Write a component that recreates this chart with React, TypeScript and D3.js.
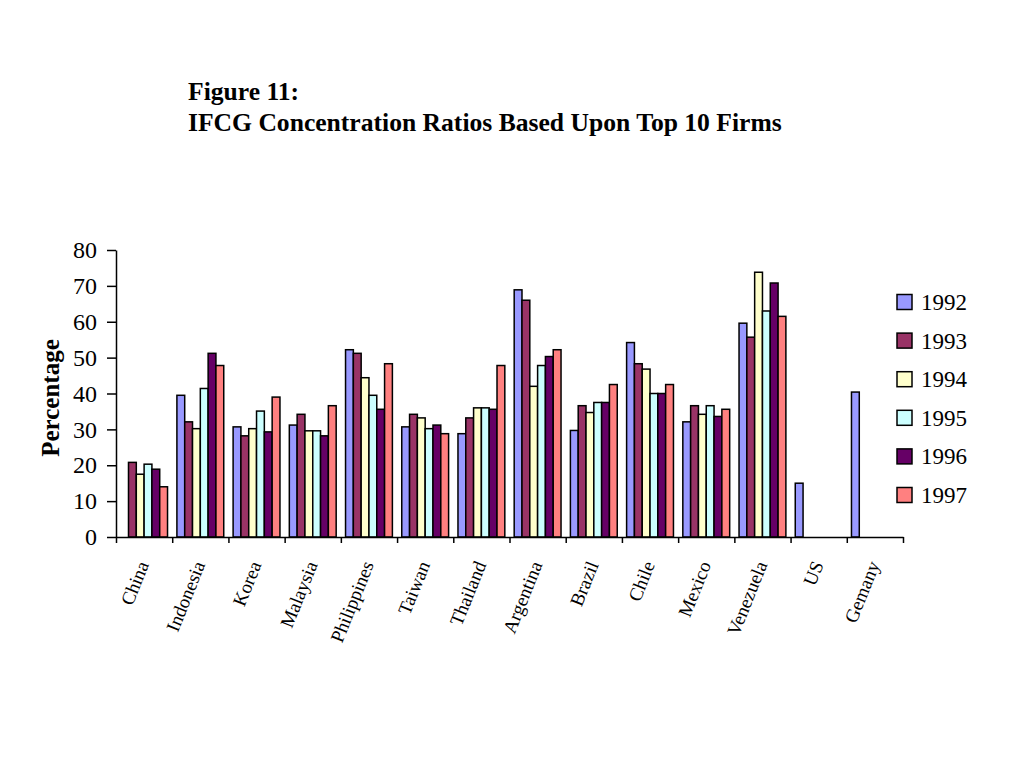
import { useEffect, useRef } from 'react';
import * as d3 from 'd3';

const countries = [
  'China', 'Indonesia', 'Korea', 'Malaysia', 'Philippines', 'Taiwan', 'Thailand',
  'Argentina', 'Brazil', 'Chile', 'Mexico', 'Venezuela', 'US', 'Gemany',
];
const years = ['1992', '1993', '1994', '1995', '1996', '1997'];

// null = no bar
const v1992 = [null, 39.5, 30.7, 31.2, 52.2, 30.7, 28.8, 68.9, 29.7, 54.2, 32.1, 59.6, 15.0, 40.4];
const v1993 = [20.8, 32.1, 28.2, 34.2, 51.2, 34.2, 33.2, 66.0, 36.6, 48.3, 36.6, 55.7, null, null];
const v1994 = [17.5, 30.2, 30.2, 29.6, 44.4, 33.2, 36.0, 42.0, 34.7, 46.8, 34.2, 73.8, null, null];
const v1995 = [20.3, 41.4, 35.1, 29.6, 39.5, 30.2, 36.0, 47.8, 37.5, 40.0, 36.6, 63.0, null, null];
const v1996 = [18.9, 51.2, 29.3, 28.2, 35.6, 31.2, 35.6, 50.3, 37.5, 40.0, 33.6, 70.8, null, null];
const v1997 = [14.0, 47.8, 39.0, 36.6, 48.3, 28.8, 47.8, 52.2, 42.5, 42.5, 35.6, 61.5, null, null];

const series = [v1992, v1993, v1994, v1995, v1996, v1997];
const colors = ['#9999FF', '#993366', '#FFFFCC', '#CCFFFF', '#660066', '#FF8080'];
const yTicks = [0, 10, 20, 30, 40, 50, 60, 70, 80];

const App = () => {
  const ref = useRef<SVGSVGElement | null>(null);

  useEffect(() => {
    if (!ref.current) return;
    const svg = d3.select(ref.current);
    svg.selectAll('*').remove();
    const font = '"Liberation Serif", "Times New Roman", serif';

    const left = 116;
    const right = 903;
    const top = 250;
    const bottom = 537;

    const x0 = d3.scaleBand<string>().domain(countries).range([left, right]).padding(0);
    const x1 = d3
      .scaleBand<string>()
      .domain(years)
      .range([0, x0.bandwidth()])
      .paddingInner(0)
      .paddingOuter(0.6);
    const y = d3.scaleLinear().domain([0, 80]).range([bottom, top]);

    // title
    const title = svg
      .append('text')
      .attr('font-family', font)
      .attr('font-weight', 'bold')
      .attr('font-size', 25.6);
    title.append('tspan').attr('x', 188).attr('y', 100).text('Figure 11:');
    title
      .append('tspan')
      .attr('x', 188)
      .attr('y', 131)
      .text('IFCG Concentration Ratios Based Upon Top 10 Firms');

    // bars
    series.forEach((vals, si) => {
      svg
        .append('g')
        .selectAll('rect')
        .data(vals.map((v, i) => ({ c: countries[i], v })).filter((d) => d.v !== null))
        .join('rect')
        .attr('x', (d) => (x0(d.c) as number) + (x1(years[si]) as number))
        .attr('y', (d) => y(d.v as number))
        .attr('width', x1.bandwidth())
        .attr('height', (d) => bottom - y(d.v as number))
        .attr('fill', colors[si])
        .attr('stroke', '#000')
        .attr('stroke-width', 1.5);
    });

    // y axis
    const yAxis = svg
      .append('g')
      .attr('transform', `translate(${left},0)`)
      .call(d3.axisLeft(y).tickValues(yTicks).tickSize(9).tickSizeOuter(0));
    yAxis.select('.domain').attr('stroke', '#000').attr('stroke-width', 1.5);
    yAxis.selectAll('line').attr('stroke', '#000').attr('stroke-width', 1.5);
    yAxis
      .selectAll('text')
      .attr('font-family', font)
      .attr('font-size', 24)
      .attr('fill', '#000')
      .attr('x', -19);

    // x axis
    const xAxis = svg
      .append('g')
      .attr('transform', `translate(0,${bottom})`)
      .call(
        d3
          .axisBottom(d3.scaleLinear().domain([0, countries.length]).range([left, right]))
          .tickValues(d3.range(0, countries.length + 1))
          .tickSize(6)
          .tickSizeOuter(0)
          .tickFormat(() => '')
      );
    xAxis.select('.domain').attr('stroke', '#000').attr('stroke-width', 1.5);
    xAxis.selectAll('line').attr('stroke', '#000').attr('stroke-width', 1.5);

    svg
      .append('g')
      .selectAll('text')
      .data(countries)
      .join('text')
      .attr('font-family', font)
      .attr('font-size', 19)
      .attr('text-anchor', 'end')
      .attr('dy', '0.35em')
      .attr(
        'transform',
        (d) => `translate(${(x0(d) as number) + x0.bandwidth() / 2 - 1},${bottom + 25}) rotate(-68)`
      )
      .text((d) => d);

    // y label
    svg
      .append('text')
      .attr('font-family', font)
      .attr('font-weight', 'bold')
      .attr('font-size', 25)
      .attr('text-anchor', 'middle')
      .attr('transform', `translate(59,398) rotate(-90)`)
      .text('Percentage');

    // legend
    const legend = svg
      .append('g')
      .selectAll('g')
      .data(years)
      .join('g')
      .attr('transform', (_, i) => `translate(897,${302 + i * 38.6})`);
    legend
      .append('rect')
      .attr('x', 0)
      .attr('y', -7.5)
      .attr('width', 15)
      .attr('height', 15)
      .attr('fill', (_, i) => colors[i])
      .attr('stroke', '#000')
      .attr('stroke-width', 1.5);
    legend
      .append('text')
      .attr('x', 24)
      .attr('dy', '0.35em')
      .attr('font-family', font)
      .attr('font-size', 23)
      .text((d) => d);
  }, []);

  return (
    <svg
      ref={ref}
      width={1024}
      height={768}
      style={{ position: 'absolute', left: 0, top: 0, background: '#fff' }}
    />
  );
};

export default App;
